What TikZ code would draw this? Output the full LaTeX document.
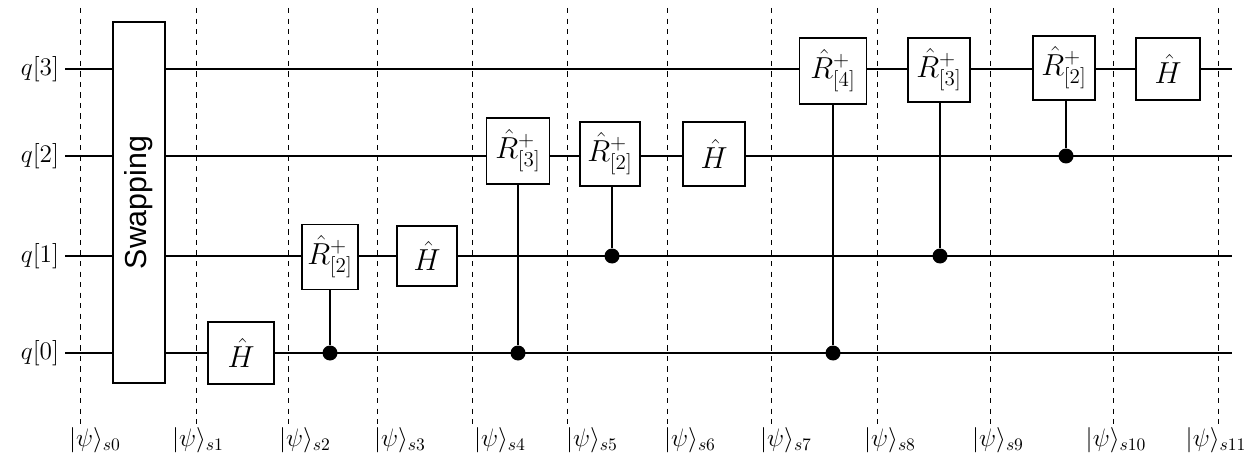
\documentclass[tikz,border=0pt]{standalone}
\usepackage{fontspec}
\newfontfamily\sw{Liberation Sans}
\begin{document}
\begin{tikzpicture}[x=0.02cm,y=-0.02cm,
 wire/.style={line width=1pt},
 gate/.style={draw,line width=1pt,fill=white,inner sep=0pt,font=\LARGE},
 sep/.style={dashed,line width=0.5pt},
 ctrl/.style={circle,fill=black,inner sep=0pt,minimum size=0.3cm},
 ket/.style={font=\Large}]
\useasboundingbox (0,0) rectangle (1250,466);
% dashed lines
\foreach \x [count=\i from 0] in {80,196,288,377,472,567,667,771,877,990,1113,1218}{
 \coordinate (dt\i) at (\x,8); \coordinate (db\i) at (\x,425);
 \draw[sep] (dt\i) -- (db\i);}
% ket labels
\foreach \x/\s in {95/0,198/1,305/2,400/3,500/4,592/5,690/6,786/7,890/8,998/9,1116/10,1216/11}
 \node[ket] (k\s) at (\x,440) {$|\psi\rangle_{s\s}$};
% wires
\foreach \y/\n in {69/3,156/2,256/1,353/0}{
 \node[font=\Large] (l\n) at (40,\y) {$q[\n]$};
 \coordinate (e\n) at (1232,\y);
 \draw[wire] (l\n.east) -- (e\n);}
% swapping
\node[gate,minimum width=1.04cm,minimum height=7.22cm,font=\sw\LARGE] (sw) at (139,202.5) {\rotatebox{90}{Swapping}};
% gates
\newcommand{\gt}[6]{\node[gate,minimum width=#3*0.02cm,minimum height=#4*0.02cm] (#5) at (#1,#2) {#6};}
\gt{241}{353}{66}{62}{h0}{$\hat H$}
\gt{330}{257}{56}{65}{r1}{$\hat R^{+}_{[2]}$}
\gt{427}{256}{60}{60}{h1}{$\hat H$}
\gt{518}{151}{63}{66}{r2a}{$\hat R^{+}_{[3]}$}
\gt{610}{154}{60}{64}{r2b}{$\hat R^{+}_{[2]}$}
\gt{714}{154}{62}{64}{h2}{$\hat H$}
\gt{833}{71}{67}{66}{r3a}{$\hat R^{+}_{[4]}$}
\gt{939}{70}{62}{64}{r3b}{$\hat R^{+}_{[3]}$}
\gt{1064}{68}{62}{64}{r3c}{$\hat R^{+}_{[2]}$}
\gt{1168}{69}{64}{62}{h3}{$\hat H$}
% controls
\node[ctrl] (c1) at (330,353) {}; \draw[wire] (r1) -- (c1);
\node[ctrl] (c2) at (518,353) {}; \draw[wire] (r2a) -- (c2);
\node[ctrl] (c3) at (612,256) {}; \draw[wire] (r2b.south -| c3) -- (c3);
\node[ctrl] (c4) at (833,353) {}; \draw[wire] (r3a) -- (c4);
\node[ctrl] (c5) at (940,256) {}; \draw[wire] (r3b.south -| c5) -- (c5);
\node[ctrl] (c6) at (1066,156) {}; \draw[wire] (r3c.south -| c6) -- (c6);
\end{tikzpicture}
\end{document}
